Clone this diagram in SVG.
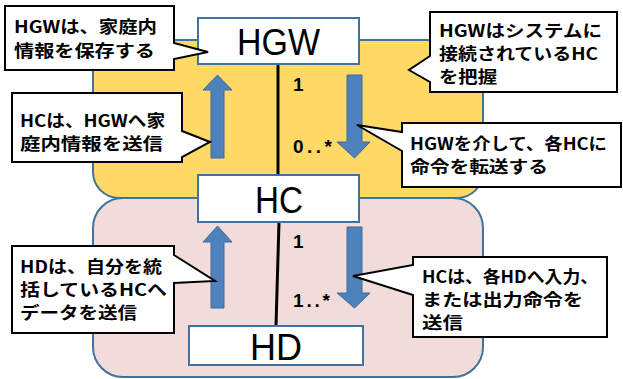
<svg xmlns="http://www.w3.org/2000/svg" width="623" height="379" viewBox="0 0 623 379">
<style>
.zone{stroke:#41719C;stroke-width:2}
.node{fill:#fff;stroke:#41719C;stroke-width:2}
.big{font-family:"Liberation Sans","Noto Sans",sans-serif;font-size:37px;fill:#000}
.call{fill:#fff;stroke:#000;stroke-width:2;stroke-linejoin:miter}
.ct{font-family:"Noto Sans CJK JP","Noto Sans",sans-serif;font-weight:bold;font-size:16.5px;fill:#000}
.mult{font-family:"Liberation Sans","Noto Sans",sans-serif;font-weight:bold;font-size:19px;fill:#000}
.arr{fill:#4F81BD;stroke:#3A6A9C;stroke-width:1}
.conn{stroke:#000;stroke-width:3;fill:none}
</style>
<g id="zones">
<rect class="zone" x="93" y="40" width="390" height="158" rx="26" fill="#FFD966"/>
<rect class="zone" x="93" y="198" width="390" height="179" rx="30" fill="#F2DCDB"/>
</g>
<g id="connectors">
<line class="conn" x1="278" y1="64" x2="278" y2="175"/>
<line class="conn" x1="279" y1="222" x2="276" y2="326"/>
<text class="mult" x="293" y="91">1</text>
<text class="mult" x="293" y="153" textLength="39">0..*</text>
<text class="mult" x="293" y="248">1</text>
<text class="mult" x="293" y="307" textLength="37">1..*</text>
</g>
<g id="arrows">
<polygon class="arr" points="217.5,75 232,90 224,90 224,158 211,158 211,90 203,90"/>
<polygon class="arr" points="347,75 362,75 362,142 370,142 354.5,158 337,142 347,142"/>
<polygon class="arr" points="217.5,226 232,242 224,242 224,308 211,308 211,242 203,242"/>
<polygon class="arr" points="347,227 362,227 362,293 370,293 354.5,308 337,293 347,293"/>
</g>
<g id="HGW">
<rect class="node" x="198" y="18" width="161" height="46"/>
<text class="big" x="237" y="55" textLength="83" lengthAdjust="spacingAndGlyphs">HGW</text>
</g>
<g id="HC">
<rect class="node" x="198" y="175" width="161" height="47"/>
<text class="big" x="255" y="213" textLength="48" lengthAdjust="spacingAndGlyphs">HC</text>
</g>
<g id="HD">
<rect class="node" x="189" y="326" width="174" height="39"/>
<text class="big" x="250" y="360" textLength="52" lengthAdjust="spacingAndGlyphs">HD</text>
</g>
<g id="callout1">
<path class="call" d="M5,6 H174 V43 L208,52 L174,59 V70 H5 Z"/>
<text class="ct" x="14" y="33" textLength="143" lengthAdjust="spacingAndGlyphs">HGWは、家庭内</text>
<text class="ct" x="14" y="57" textLength="141" lengthAdjust="spacingAndGlyphs">情報を保存する</text>
</g>
<g id="callout2">
<path class="call" d="M430,12 H617 V92 H430 V82 L409,70 L430,56 Z"/>
<text class="ct" x="439" y="37" textLength="163" lengthAdjust="spacingAndGlyphs">HGWはシステムに</text>
<text class="ct" x="439" y="60" textLength="159" lengthAdjust="spacingAndGlyphs">接続されているHC</text>
<text class="ct" x="439" y="83" textLength="58" lengthAdjust="spacingAndGlyphs">を把握</text>
</g>
<g id="callout3">
<path class="call" d="M12,93 H182 V131 L210,142 L182,157 V162 H12 Z"/>
<text class="ct" x="20" y="127" textLength="145" lengthAdjust="spacingAndGlyphs">HCは、HGWへ家</text>
<text class="ct" x="20" y="150" textLength="143" lengthAdjust="spacingAndGlyphs">庭内情報を送信</text>
</g>
<g id="callout4">
<path class="call" d="M402,123 H621 V187 H402 V151 L357,125 L402,132 Z"/>
<text class="ct" x="410" y="150" textLength="197" lengthAdjust="spacingAndGlyphs">HGWを介して、各HCに</text>
<text class="ct" x="410" y="173" textLength="138" lengthAdjust="spacingAndGlyphs">命令を転送する</text>
</g>
<g id="callout5">
<path class="call" d="M12,246 H174 V255 L215,281 L174,283 V333 H12 Z"/>
<text class="ct" x="20" y="273" textLength="142" lengthAdjust="spacingAndGlyphs">HDは、自分を統</text>
<text class="ct" x="20" y="296" textLength="147" lengthAdjust="spacingAndGlyphs">括しているHCへ</text>
<text class="ct" x="20" y="319" textLength="117" lengthAdjust="spacingAndGlyphs">データを送信</text>
</g>
<g id="callout6">
<path class="call" d="M413,257 H607 V337 H413 V295 L353,276 L413,265 Z"/>
<text class="ct" x="422" y="283" textLength="176" lengthAdjust="spacingAndGlyphs">HCは、各HDへ入力、</text>
<text class="ct" x="422" y="306" textLength="161" lengthAdjust="spacingAndGlyphs">または出力命令を</text>
<text class="ct" x="422" y="329" textLength="41" lengthAdjust="spacingAndGlyphs">送信</text>
</g>
</svg>
